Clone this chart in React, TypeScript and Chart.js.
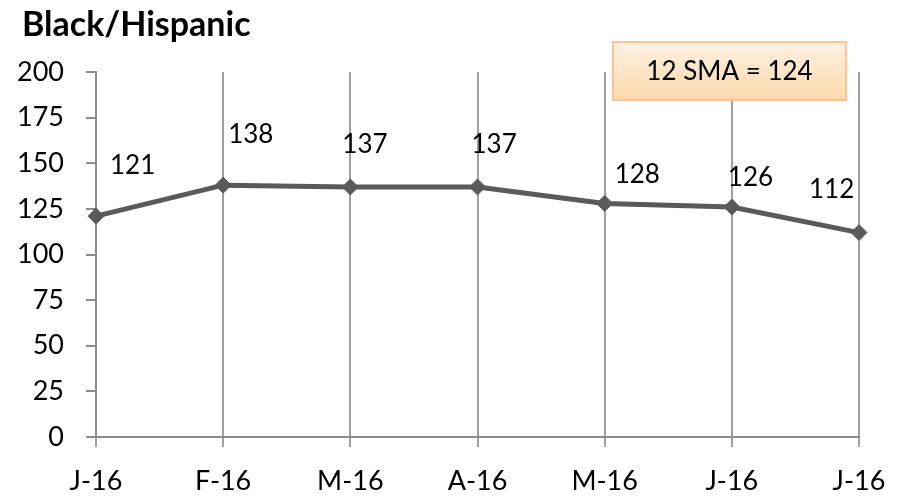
import React, { useEffect, useRef } from "react";
import { Chart, registerables } from "chart.js";

Chart.register(...registerables);

const TITLE = "Black/Hispanic";
const CATEGORIES = ["J-16", "F-16", "M-16", "A-16", "M-16", "J-16", "J-16"];
const VALUES = [121, 138, 137, 137, 128, 126, 112];
const Y_MIN = 0;
const Y_MAX = 200;
const Y_STEP = 25;
const SMA_TEXT = "12 SMA = 124";
// label nudges (text left edge / vertical centre relative to each point)
const LABEL_DX = [14, 5, -8, -6, 10, -4, -50];
const LABEL_DY = [-51, -51, -42, -42, -29, -29, -43];

const FONT = "Lato, 'Open Sans', sans-serif";
const LINE_COLOR = "#5a5a5a";
const GRID_COLOR = "#a0a0a0";
const AXIS_COLOR = "#8c8c8c";

export default function App() {
  const ref = useRef<HTMLCanvasElement | null>(null);
  useEffect(() => {
    if (!ref.current) return;
    const overlay = {
      id: "overlay",
      afterDatasetsDraw(chart: any) {
        const ctx = chart.ctx;
        const meta = chart.getDatasetMeta(0);
        ctx.save();
        ctx.fillStyle = "#000";
        ctx.font = `26px ${FONT}`;
        ctx.textAlign = "left";
        ctx.textBaseline = "middle";
        meta.data.forEach((pt: any, i: number) => {
          ctx.fillText(String(VALUES[i]), pt.x + LABEL_DX[i], pt.y + LABEL_DY[i]);
        });
        ctx.restore();
      },
      afterDraw(chart: any) {
        const ctx = chart.ctx;
        ctx.save();
        // title
        ctx.fillStyle = "#000";
        ctx.font = `bold 34px ${FONT}`;
        ctx.textAlign = "left";
        ctx.textBaseline = "alphabetic";
        ctx.fillText(TITLE, 22, 36);
        // SMA box
        const bx = 613, by = 42, bw = 233, bh = 58;
        const g = ctx.createLinearGradient(0, by, 0, by + bh);
        g.addColorStop(0, "#fdf1e3");
        g.addColorStop(1, "#fcd9ab");
        ctx.fillStyle = g;
        ctx.fillRect(bx, by, bw, bh);
        ctx.strokeStyle = "#f9c597";
        ctx.lineWidth = 2;
        ctx.strokeRect(bx, by, bw, bh);
        ctx.fillStyle = "#000";
        ctx.font = `26px ${FONT}`;
        ctx.textAlign = "center";
        ctx.textBaseline = "middle";
        ctx.fillText(SMA_TEXT, bx + bw / 2, by + bh / 2 + 1);
        ctx.restore();
      },
    };
    const chart = new Chart(ref.current, {
      type: "line",
      data: {
        labels: CATEGORIES,
        datasets: [
          {
            data: VALUES,
            borderColor: LINE_COLOR,
            backgroundColor: LINE_COLOR,
            borderWidth: 5,
            pointStyle: "rectRot",
            pointRadius: 8,
            pointBackgroundColor: LINE_COLOR,
            pointBorderColor: LINE_COLOR,
            pointBorderWidth: 1,
            tension: 0,
          },
        ],
      },
      options: {
        responsive: false,
        animation: false,
        layout: { padding: { top: 72, right: 50, left: 0, bottom: 0 } },
        plugins: { legend: { display: false }, tooltip: { enabled: false }, title: { display: false } },
        scales: {
          x: {
            offset: false,
            grid: {
              display: true,
              drawOnChartArea: true,
              drawTicks: true,
              tickLength: 10,
              color: GRID_COLOR,
              lineWidth: 2,
            },
            border: { display: true, color: AXIS_COLOR, width: 2 },
            ticks: {
              color: "#000",
              font: { family: FONT, size: 27 },
              padding: 18,
              maxRotation: 0,
              autoSkip: false,
            },
            afterFit(scale: any) {
              scale.height = 63;
            },
          },
          y: {
            min: Y_MIN,
            max: Y_MAX,
            grid: {
              display: true,
              drawOnChartArea: false,
              drawTicks: true,
              tickLength: 10,
              color: AXIS_COLOR,
              lineWidth: 2,
            },
            border: { display: true, color: AXIS_COLOR, width: 2 },
            ticks: {
              stepSize: Y_STEP,
              color: "#000",
              font: { family: FONT, size: 27 },
              padding: 22,
            },
            afterFit(scale: any) {
              scale.width = 96;
            },
          },
        },
      },
      plugins: [overlay],
    });
    return () => chart.destroy();
  }, []);
  return (
    <div style={{ position: "absolute", left: 0, top: 0, width: 909, height: 500, background: "#fff" }}>
      <canvas ref={ref} width={909} height={500} style={{ width: 909, height: 500 }} />
    </div>
  );
}
